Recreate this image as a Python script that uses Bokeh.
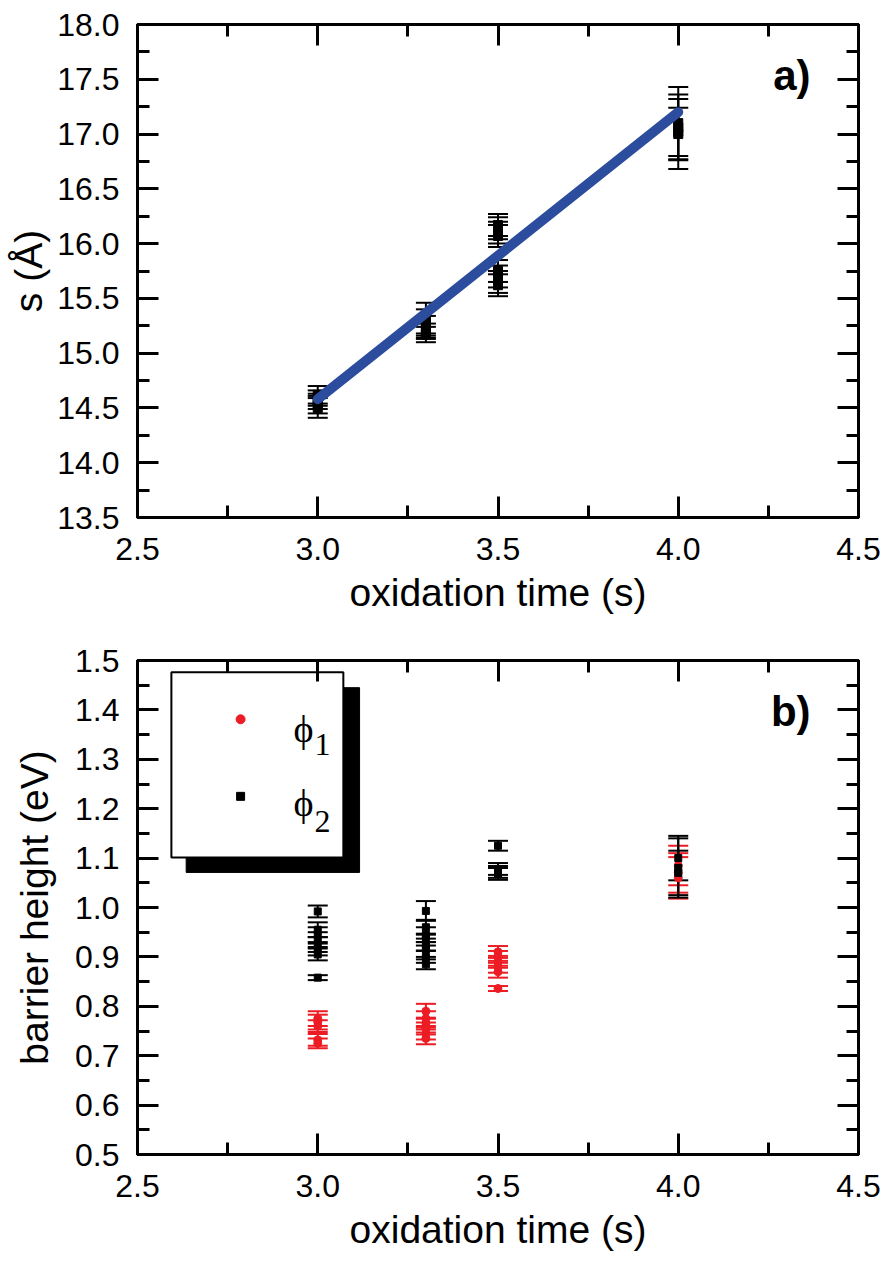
from bokeh.plotting import figure
from bokeh.models import (ColumnDataSource, Whisker, TeeHead, LinearAxis, FixedTicker,
                          Label, Range1d, NumeralTickFormatter, CustomLabelingPolicy)
from bokeh.layouts import column
from bokeh.embed import file_html
from bokeh.resources import INLINE

# ---------------- data ----------------
x_ticks = [2.5, 3.0, 3.5, 4.0, 4.5]
x_minor = [2.75, 3.25, 3.75, 4.25]
a_ticks = [13.5, 14.0, 14.5, 15.0, 15.5, 16.0, 16.5, 17.0, 17.5, 18.0]
a_minor = [13.75, 14.25, 14.75, 15.25, 15.75, 16.25, 16.75, 17.25, 17.75]
b_ticks = [0.5, 0.6, 0.7, 0.8, 0.9, 1.0, 1.1, 1.2, 1.3, 1.4, 1.5]
b_minor = [0.55, 0.65, 0.75, 0.85, 0.95, 1.05, 1.15, 1.25, 1.35, 1.45]

# panel a: barrier width s (Å)
a_time = [3.0, 3.0, 3.0, 3.0, 3.0,
          3.3, 3.3, 3.3, 3.3, 3.3,
          3.5, 3.5, 3.5, 3.5, 3.5, 3.5, 3.5, 3.5,
          4.0, 4.0, 4.0, 4.0]
a_s = [14.62, 14.59, 14.56, 14.53, 14.50,
       15.32, 15.28, 15.24, 15.20, 15.17,
       16.17, 16.14, 16.10, 16.07, 15.75, 15.70, 15.65, 15.62,
       17.10, 17.06, 17.02, 17.00]
a_err = [0.08, 0.07, 0.07, 0.08, 0.09,
         0.14, 0.12, 0.10, 0.07, 0.07,
         0.10, 0.10, 0.10, 0.10, 0.10, 0.10, 0.10, 0.10,
         0.33, 0.30, 0.22, 0.32]
fit_time = [3.0, 4.0]
fit_s = [14.58, 17.20]

# panel b: barrier heights (eV)
phi1_time = [3.0, 3.0, 3.0, 3.0, 3.0,
             3.3, 3.3, 3.3, 3.3, 3.3, 3.3,
             3.5, 3.5, 3.5, 3.5, 3.5, 3.5,
             4.0, 4.0, 4.0]
phi1 = [0.775, 0.768, 0.760, 0.732, 0.725,
        0.790, 0.775, 0.765, 0.755, 0.745, 0.735,
        0.910, 0.900, 0.890, 0.880, 0.870, 0.836,
        1.085, 1.070, 1.060]
phi1_err = [0.015, 0.015, 0.012, 0.012, 0.010,
            0.015, 0.015, 0.012, 0.012, 0.012, 0.012,
            0.012, 0.012, 0.012, 0.012, 0.012, 0.005,
            0.040, 0.040, 0.042]
phi2_time = [3.0, 3.0, 3.0, 3.0, 3.0, 3.0, 3.0, 3.0,
             3.3, 3.3, 3.3, 3.3, 3.3, 3.3, 3.3, 3.3,
             3.5, 3.5, 3.5, 3.5,
             4.0, 4.0, 4.0]
phi2 = [0.992, 0.955, 0.945, 0.935, 0.925, 0.915, 0.905, 0.858,
        0.993, 0.960, 0.945, 0.935, 0.925, 0.915, 0.900, 0.885,
        1.125, 1.078, 1.072, 1.068,
        1.100, 1.080, 1.070]
phi2_err = [0.012, 0.015, 0.015, 0.015, 0.015, 0.012, 0.012, 0.005,
            0.020, 0.015, 0.015, 0.012, 0.012, 0.015, 0.012, 0.010,
            0.010, 0.012, 0.012, 0.012,
            0.045, 0.060, 0.045]

FONT = "Liberation Sans"
SERIF = "Liberation Serif"
RED = "#ec1c24"
BLUE = "#2c4d9e"


def make_fig(height, ymin, ymax, yticks, yminor, ylabel, border_bottom, ylabel_standoff):
    p = figure(width=891, height=height, output_backend="svg", toolbar_location=None,
               x_range=Range1d(2.5, 4.5), y_range=Range1d(ymin, ymax),
               min_border_left=137, min_border_right=33, min_border_top=24,
               min_border_bottom=border_bottom, background_fill_color="white",
               border_fill_color="white")
    p.xgrid.visible = False
    p.ygrid.visible = False
    p.outline_line_color = "black"
    p.outline_line_width = 3
    xt = FixedTicker(ticks=x_ticks, minor_ticks=x_minor)
    yt = FixedTicker(ticks=yticks, minor_ticks=yminor)
    for ax, t in ((p.xaxis[0], xt), (p.yaxis[0], yt)):
        ax.ticker = t
        ax.formatter = NumeralTickFormatter(format="0.0")
        ax.major_tick_in = 21
        ax.major_tick_out = 0
        ax.minor_tick_in = 12
        ax.minor_tick_out = 0
        ax.axis_line_width = 3
        ax.major_tick_line_width = 3
        ax.minor_tick_line_width = 3
        ax.major_label_text_font = FONT
        ax.major_label_text_font_size = "32px"
        ax.major_label_text_color = "black"
        ax.axis_label_text_font = FONT
        ax.axis_label_text_font_size = "39px"
        ax.axis_label_text_font_style = "normal"
        ax.axis_label_text_color = "black"
    p.xaxis[0].major_label_standoff = 20
    p.xaxis[0].axis_label_standoff = 8
    p.xaxis[0].axis_label = "oxidation time (s)"
    p.yaxis[0].major_label_standoff = 18
    p.yaxis[0].axis_label_standoff = ylabel_standoff
    p.yaxis[0].axis_label = ylabel
    for side, t in (("right", yt), ("above", xt)):
        ax = LinearAxis(ticker=t, major_label_policy=CustomLabelingPolicy(code="return new Set()"),
                        major_label_standoff=0,
                        major_tick_in=21, major_tick_out=0, minor_tick_in=12, minor_tick_out=0,
                        axis_line_width=3, major_tick_line_width=3, minor_tick_line_width=3)
        p.add_layout(ax, side)
    return p


def add_errors(p, xs, ys, errs, color, cap=20):
    src = ColumnDataSource(dict(x=xs, y=ys,
                                upper=[y + e for y, e in zip(ys, errs)],
                                lower=[y - e for y, e in zip(ys, errs)]))
    w = Whisker(source=src, base="x", upper="upper", lower="lower", dimension="height",
                line_color=color, line_width=2,
                upper_head=TeeHead(size=cap, line_color=color, line_width=2),
                lower_head=TeeHead(size=cap, line_color=color, line_width=2))
    p.add_layout(w)
    return src


# ---------------- panel a ----------------
pa = make_fig(636, 13.5, 18.0, a_ticks, a_minor, "s (Å)", 119, 4)
add_errors(pa, a_time, a_s, a_err, "black")
pa.scatter(a_time, a_s, marker="square", size=9, color="black")
pa.line(fit_time, fit_s, line_width=10, line_color=BLUE, line_cap="round")
pa.add_layout(Label(x=4.367, y=17.535, text="a)", text_font=FONT, text_font_size="42px",
                    text_font_style="bold", text_color="black",
                    text_align="right", text_baseline="middle"))

# ---------------- panel b ----------------
pb = make_fig(630, 0.5, 1.5, b_ticks, b_minor, "barrier height (eV)", 112, 16)
add_errors(pb, phi1_time, phi1, phi1_err, RED)
add_errors(pb, phi2_time, phi2, phi2_err, "black")
pb.scatter(phi1_time, phi1, marker="circle", size=8, color=RED)
pb.scatter(phi2_time, phi2, marker="square", size=7, color="black")
pb.add_layout(Label(x=4.367, y=1.397, text="b)", text_font=FONT, text_font_size="42px",
                    text_font_style="bold", text_color="black",
                    text_align="right", text_baseline="middle"))

# legend box with shadow
pb.quad(left=2.635, right=3.116, top=1.445, bottom=1.071, fill_color="black", line_color="black")
pb.quad(left=2.594, right=3.071, top=1.476, bottom=1.101, fill_color="white",
        line_color="black", line_width=2)
pb.scatter([2.786], [1.381], marker="circle", size=9, color=RED)
pb.scatter([2.786], [1.225], marker="square", size=8, color="black")
pb.add_layout(Label(x=2.933, y=1.362, text="ϕ", text_font=SERIF, text_font_size="38px",
                    text_color="black", text_align="left", text_baseline="middle"))
pb.add_layout(Label(x=2.991, y=1.330, text="1", text_font=SERIF, text_font_size="32px",
                    text_color="black", text_align="left", text_baseline="middle"))
pb.add_layout(Label(x=2.933, y=1.211, text="ϕ", text_font=SERIF, text_font_size="38px",
                    text_color="black", text_align="left", text_baseline="middle"))
pb.add_layout(Label(x=2.991, y=1.174, text="2", text_font=SERIF, text_font_size="32px",
                    text_color="black", text_align="left", text_baseline="middle"))

layout = column(pa, pb, spacing=0)
open("out.html", "w").write(file_html(layout, INLINE))
